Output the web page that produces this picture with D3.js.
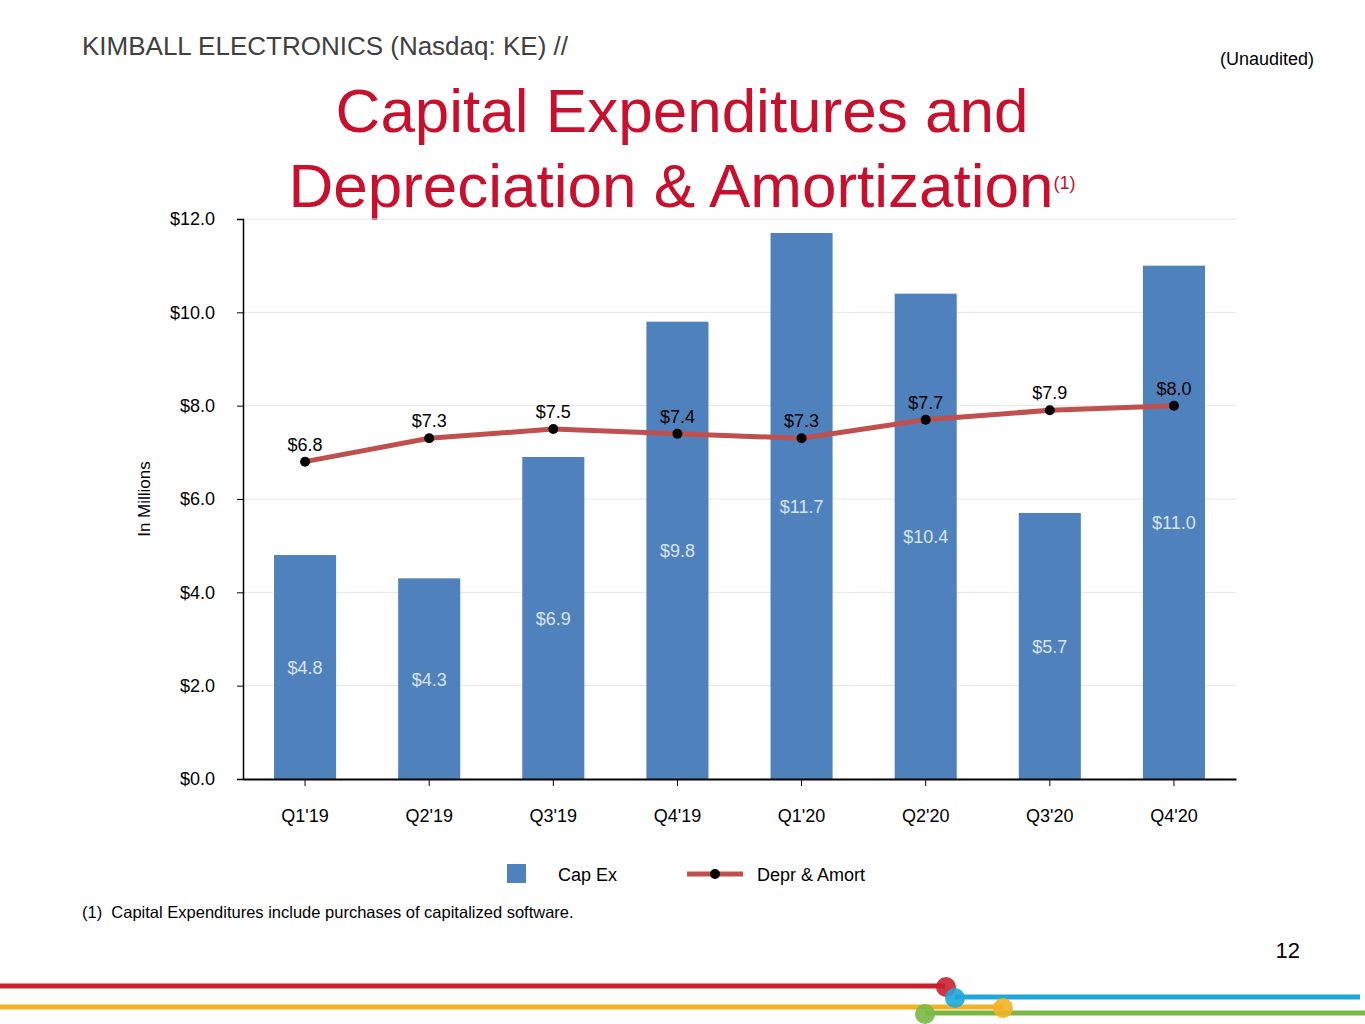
<!DOCTYPE html>
<html>
<head>
<meta charset="UTF-8">
<script src="https://d3js.org/d3.v7.min.js"></script>
<style>
  body { margin:0; background:#fff; font-family: Arial, "Liberation Sans", sans-serif; }
</style>
</head>
<body>
<svg id="chart" width="1365" height="1024"></svg>
<script>
const quarters = ["Q1'19","Q2'19","Q3'19","Q4'19","Q1'20","Q2'20","Q3'20","Q4'20"];
const capEx = [4.8, 4.3, 6.9, 9.8, 11.7, 10.4, 5.7, 11.0];
const deprAmort = [6.8, 7.3, 7.5, 7.4, 7.3, 7.7, 7.9, 8.0];
const yTicks = [0, 2, 4, 6, 8, 10, 12];

const svg = d3.select("#chart");
const plotL = 243, plotR = 1236, plotT = 219, plotB = 779;

const x = d3.scaleBand().domain(quarters).range([plotL, plotR]).paddingInner(0.5).paddingOuter(0.25);
const y = d3.scaleLinear().domain([0, 12]).range([plotB, plotT]);
const fmt = d => "$" + d.toFixed(1);

// header
svg.append("text").attr("x", 82).attr("y", 55).attr("font-size", 26).attr("fill", "#404040")
  .text("KIMBALL ELECTRONICS (Nasdaq: KE) //");
svg.append("text").attr("x", 1314).attr("y", 65).attr("font-size", 18).attr("text-anchor", "end").attr("fill", "#000")
  .text("(Unaudited)");
svg.append("text").attr("x", 682).attr("y", 132).attr("font-size", 62).attr("text-anchor", "middle").attr("fill", "#c8102e")
  .text("Capital Expenditures and");
const t2 = svg.append("text").attr("x", 682).attr("y", 207).attr("font-size", 62).attr("text-anchor", "middle").attr("fill", "#c8102e");
t2.append("tspan").text("Depreciation & Amortization");
t2.append("tspan").attr("font-size", 18).attr("dy", -18).text("(1)");

// gridlines
svg.append("g").selectAll("line").data(yTicks.filter(d => d > 0)).join("line")
  .attr("x1", plotL).attr("x2", plotR).attr("y1", d => y(d)).attr("y2", d => y(d))
  .attr("stroke", "#e6e6e6").attr("stroke-width", 1);

// y axis
const ya = svg.append("g").attr("transform", `translate(${plotL},0)`)
  .call(d3.axisLeft(y).tickValues(yTicks).tickFormat(fmt).tickSize(6).tickPadding(22));
ya.select(".domain").attr("stroke", "#000").attr("stroke-width", 1.5);
ya.selectAll("text").attr("font-size", 18).attr("font-family", "Arial, 'Liberation Sans', sans-serif").attr("fill", "#000");
svg.append("text").attr("transform", "translate(150,499) rotate(-90)").attr("text-anchor", "middle")
  .attr("font-size", 17).text("In Millions");

// bars
svg.append("g").selectAll("rect").data(capEx).join("rect")
  .attr("x", (d, i) => x(quarters[i])).attr("width", x.bandwidth())
  .attr("y", d => y(d)).attr("height", d => plotB - y(d)).attr("fill", "#4f81bd");

// x axis
const xa = svg.append("g").attr("transform", `translate(0,${plotB})`)
  .call(d3.axisBottom(x).tickSize(7).tickPadding(23).tickSizeOuter(0));
xa.select(".domain").attr("stroke", "#000").attr("stroke-width", 2);
xa.selectAll("text").attr("font-size", 18).attr("font-family", "Arial, 'Liberation Sans', sans-serif").attr("fill", "#000");

// bar labels
svg.append("g").selectAll("text").data(capEx).join("text")
  .attr("x", (d, i) => x(quarters[i]) + x.bandwidth() / 2)
  .attr("y", d => y(d / 2) + 7)
  .attr("text-anchor", "middle").attr("font-size", 18).attr("fill", "#d9e4f2")
  .text(fmt);

// line
const cx = i => x(quarters[i]) + x.bandwidth() / 2;
svg.append("path").datum(deprAmort)
  .attr("d", d3.line().x((d, i) => cx(i)).y(d => y(d)))
  .attr("fill", "none").attr("stroke", "#c0504d").attr("stroke-width", 5);
svg.append("g").selectAll("circle").data(deprAmort).join("circle")
  .attr("cx", (d, i) => cx(i)).attr("cy", d => y(d)).attr("r", 5).attr("fill", "#000");
svg.append("g").selectAll("text").data(deprAmort).join("text")
  .attr("x", (d, i) => cx(i)).attr("y", d => y(d) - 11)
  .attr("text-anchor", "middle").attr("font-size", 18).attr("fill", "#000").text(fmt);

// legend
svg.append("rect").attr("x", 507).attr("y", 864).attr("width", 19).attr("height", 19).attr("fill", "#4f81bd");
svg.append("text").attr("x", 558).attr("y", 881).attr("font-size", 18).text("Cap Ex");
svg.append("line").attr("x1", 687).attr("x2", 743).attr("y1", 874).attr("y2", 874).attr("stroke", "#c0504d").attr("stroke-width", 5);
svg.append("circle").attr("cx", 715).attr("cy", 874).attr("r", 5).attr("fill", "#000");
svg.append("text").attr("x", 757).attr("y", 881).attr("font-size", 18).text("Depr & Amort");

// footnote, page number
svg.append("text").attr("x", 82).attr("y", 918).attr("font-size", 16.5).attr("xml:space", "preserve")
  .style("white-space", "pre").text("(1)  Capital Expenditures include purchases of capitalized software.");
svg.append("text").attr("x", 1300).attr("y", 958).attr("font-size", 22).attr("text-anchor", "end").text("12");

// bottom decoration
const deco = [
  {x1: 0, x2: 945, y: 986, c: "#c8202f", cx: 946},
  {x1: 955, x2: 1360, y: 997, c: "#1ea7dc", cx: 955},
  {x1: 0, x2: 1003, y: 1007, c: "#f4b223", cx: 1003},
  {x1: 925, x2: 1365, y: 1013, c: "#7ab843", cx: 925}
];
const dg = svg.append("g");
dg.selectAll("line").data(deco).join("line")
  .attr("x1", d => d.x1).attr("x2", d => d.x2).attr("y1", d => d.y).attr("y2", d => d.y)
  .attr("stroke", d => d.c).attr("stroke-width", 5);
dg.selectAll("circle").data(deco).join("circle")
  .attr("cx", d => d.cx).attr("cy", d => d.y + 1).attr("r", 10).attr("fill", d => d.c).attr("opacity", 0.9);
</script>
</body>
</html>
